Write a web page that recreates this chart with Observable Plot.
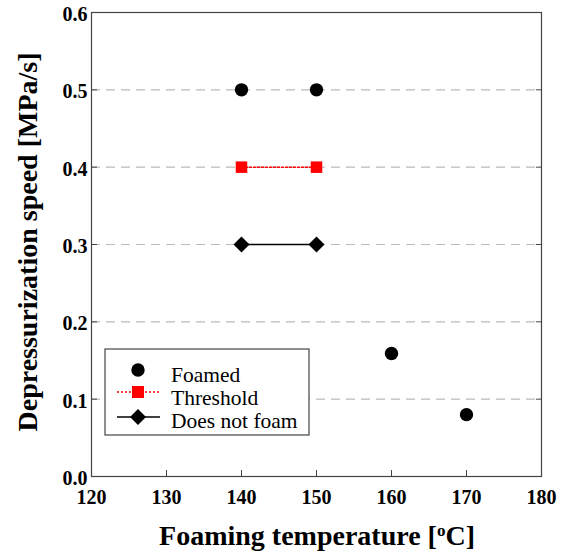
<!DOCTYPE html>
<html><head><meta charset="utf-8">
<script src="https://cdn.jsdelivr.net/npm/d3@7"></script>
<script src="https://cdn.jsdelivr.net/npm/@observablehq/plot@0.6"></script>
<style>body{margin:0;background:#fff} svg{display:block}</style>
</head><body><div id="chart"></div>
<script>
const foamedX = [140, 150, 160, 170];
const foamedY = [0.5, 0.5, 0.159, 0.08];
const thresholdX = [140, 150];
const thresholdY = [0.4, 0.4];
const noFoamX = [140, 150];
const noFoamY = [0.3, 0.3];
const xTicks = [120, 130, 140, 150, 160, 170, 180];
const yTicks = [0.0, 0.1, 0.2, 0.3, 0.4, 0.5, 0.6];
const gridY = [0.1, 0.2, 0.3, 0.4, 0.5];
const seriesNames = ["Foamed", "Threshold", "Does not foam"];
const xLabel = "Foaming temperature [";
const xLabelSup = "o";
const xLabelEnd = "C]";
const yLabel = "Depressurization speed [MPa/s]";

const foamed = foamedX.map((x, i) => ({x, y: foamedY[i]}));
const threshold = thresholdX.map((x, i) => ({x, y: thresholdY[i]}));
const noFoam = noFoamX.map((x, i) => ({x, y: noFoamY[i]}));

const W = 562, H = 555;
const serif = "'Liberation Serif', 'Times New Roman', serif";

const chart = Plot.plot({
  width: W, height: H,
  marginLeft: 91, marginRight: 21, marginTop: 12, marginBottom: 79,
  style: {fontFamily: serif, background: "#fff"},
  x: {domain: [120, 180]},
  y: {domain: [0, 0.6]},
  marks: [
    Plot.ruleY(gridY, {stroke: "#bbb", strokeWidth: 1.2, strokeDasharray: "9,6"}),
    Plot.axisX({ticks: xTicks, tickSize: -6, tickFormat: () => "", stroke: "#444", label: null}),
    Plot.axisY({ticks: yTicks, anchor: "left", tickSize: -6, tickFormat: () => "", stroke: "#444", label: null}),
    Plot.axisY({ticks: yTicks, anchor: "right", tickSize: -6, tickFormat: () => "", stroke: "#444", label: null}),
    Plot.axisX({ticks: xTicks, tickSize: 0, tickPadding: 13, tickFormat: d3.format("d"),
      fontSize: 20, fontWeight: "bold", fill: "#000", label: null}),
    Plot.axisY({ticks: yTicks, anchor: "left", tickSize: 0, tickPadding: 4, tickFormat: d3.format(".1f"),
      fontSize: 20, fontWeight: "bold", fill: "#000", dy: 2, label: null}),
    Plot.frame({stroke: "#444", strokeWidth: 1.2}),
    Plot.line(threshold, {x: "x", y: "y", stroke: "red", strokeWidth: 1.5, strokeDasharray: "2,2"}),
    Plot.line(noFoam, {x: "x", y: "y", stroke: "#000", strokeWidth: 1.5}),
    Plot.dot(foamed, {x: "x", y: "y", r: 6.7, fill: "#000", stroke: null}),
    Plot.dot(threshold, {x: "x", y: "y", r: 6.5, symbol: "square", fill: "red", stroke: null}),
    Plot.dot(noFoam, {x: "x", y: "y", r: 7.2, symbol: "diamond2", fill: "#000", stroke: null})
  ]
});
document.getElementById("chart").appendChild(chart);

const svg = d3.select(chart);
// axis labels
svg.append("text")
  .attr("transform", "translate(27,242) rotate(-90)")
  .attr("text-anchor", "middle").attr("dominant-baseline", "central")
  .style("font-family", serif).style("font-weight", "bold").style("font-size", "28px")
  .text(yLabel);
const xl = svg.append("text")
  .attr("x", 317).attr("y", 545)
  .attr("text-anchor", "middle")
  .style("font-family", serif).style("font-weight", "bold").style("font-size", "28px");
xl.append("tspan").text(xLabel);
xl.append("tspan").attr("baseline-shift", "super").style("font-size", "17px").text(xLabelSup);
xl.append("tspan").text(xLabelEnd);

// legend
const lg = svg.append("g").attr("transform", "translate(105,349)");
lg.append("rect").attr("width", 204).attr("height", 86).attr("fill", "#fff").attr("stroke", "#444").attr("stroke-width", 1.2);
const rows = [21, 43, 68];
const textBase = [33, 56, 79];
const sym = d3.symbol();
// Foamed
lg.append("circle").attr("cx", 33).attr("cy", rows[0]).attr("r", 6.7).attr("fill", "#000");
// Threshold
lg.append("line").attr("x1", 12).attr("x2", 55).attr("y1", rows[1]).attr("y2", rows[1])
  .attr("stroke", "red").attr("stroke-width", 1.5).attr("stroke-dasharray", "2,2");
lg.append("path").attr("transform", `translate(33,${rows[1]})`).attr("d", sym.type(d3.symbolSquare).size(12*12)()).attr("fill", "red");
// Does not foam
lg.append("line").attr("x1", 12).attr("x2", 55).attr("y1", rows[2]).attr("y2", rows[2])
  .attr("stroke", "#000").attr("stroke-width", 1.5);
lg.append("path").attr("transform", `translate(33,${rows[2]})`).attr("d", d3.symbol(d3.symbolDiamond2, Math.PI*7.2*7.2)()).attr("fill", "#000");
seriesNames.forEach((n, i) => {
  lg.append("text").attr("x", 66).attr("y", textBase[i])
    .attr("text-anchor", "start")
    .attr("font-family", serif)
    .style("font-family", serif).style("font-size", "21.5px").style("font-weight", "normal").text(n);
});
</script></body></html>
